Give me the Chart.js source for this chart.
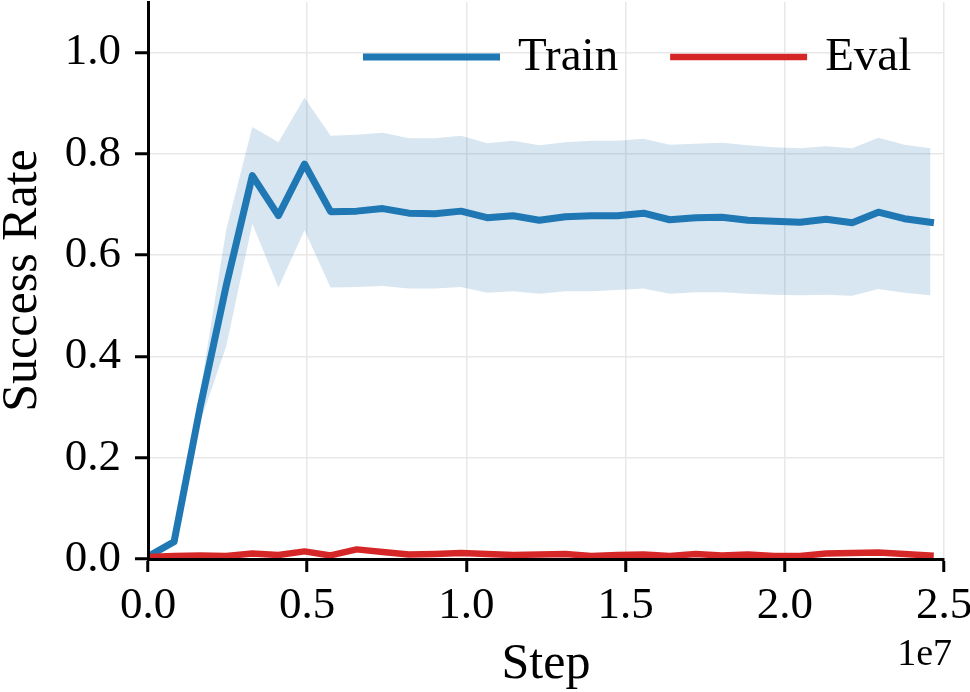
<!DOCTYPE html>
<html lang="en">
<head>
<meta charset="utf-8">
<script src="https://cdn.jsdelivr.net/npm/chart.js@4.4.1/dist/chart.umd.min.js"></script>
<style>
  body { margin: 0; background: #fff; }
  #wrap { width: 970px; height: 692px; }
</style>
</head>
<body>
<div id="wrap"><canvas id="chart" width="970" height="692"></canvas></div>
<script>
// env steps (x axis)
const steps = [0, 819200, 1638400, 2457600, 3276800, 4096000, 4915200, 5734400, 6553600, 7372800,
  8192000, 9011200, 9830400, 10649600, 11468800, 12288000, 13107200, 13926400, 14745600, 15564800,
  16384000, 17203200, 18022400, 18841600, 19660800, 20480000, 21299200, 22118400, 22937600, 23756800,
  24576000];

const trainMean = [0.005, 0.034, 0.30, 0.54, 0.757, 0.678, 0.780, 0.686, 0.687, 0.692,
  0.683, 0.682, 0.687, 0.674, 0.678, 0.669, 0.676, 0.678, 0.678, 0.683,
  0.670, 0.674, 0.675, 0.669, 0.667, 0.665, 0.671, 0.664, 0.685, 0.672,
  0.665];
const trainUpper = [0.005, 0.040, 0.33, 0.65, 0.853, 0.823, 0.911, 0.836, 0.838, 0.842,
  0.831, 0.831, 0.836, 0.821, 0.826, 0.817, 0.823, 0.826, 0.826, 0.830,
  0.818, 0.820, 0.822, 0.817, 0.813, 0.811, 0.815, 0.811, 0.832, 0.818,
  0.811];
const trainLower = [0.005, 0.030, 0.27, 0.42, 0.662, 0.536, 0.649, 0.536, 0.537, 0.539,
  0.534, 0.534, 0.537, 0.526, 0.529, 0.524, 0.529, 0.529, 0.531, 0.534,
  0.524, 0.527, 0.527, 0.524, 0.522, 0.521, 0.522, 0.520, 0.533, 0.526,
  0.521];
const evalMean = [0.004, 0.006, 0.007, 0.006, 0.011, 0.008, 0.015, 0.007, 0.019, 0.014,
  0.009, 0.010, 0.012, 0.010, 0.008, 0.009, 0.010, 0.006, 0.008, 0.009,
  0.006, 0.010, 0.007, 0.009, 0.006, 0.006, 0.011, 0.012, 0.013, 0.010,
  0.007];

const xTicks = [0, 5e6, 1e7, 1.5e7, 2e7, 2.5e7];
const xTickLabels = ['0.0', '0.5', '1.0', '1.5', '2.0', '2.5'];
const yTicks = [0, 0.2, 0.4, 0.6, 0.8, 1.0];
const yTickLabels = ['0.0', '0.2', '0.4', '0.6', '0.8', '1.0'];

const BLUE = '#1f77b4';
const RED = '#d62728';
const SERIF = '"Liberation Serif", "DejaVu Serif", serif';

function pts(ys) {
  return steps.map((s, i) => ({ x: s, y: ys[i] }));
}

// legend without frame + the "1e7" offset label, drawn after everything
const extras = {
  id: 'extras',
  afterDraw(chart) {
    const ctx = chart.ctx;
    ctx.save();
    ctx.font = '47px ' + SERIF;
    ctx.textBaseline = 'middle';
    ctx.textAlign = 'left';
    let x = 363;
    const y = 57;
    chart.data.datasets.forEach(ds => {
      if (!ds.label) return;
      ctx.strokeStyle = ds.borderColor;
      ctx.lineWidth = ds.borderWidth;
      ctx.lineCap = 'butt';
      ctx.beginPath();
      ctx.moveTo(x, y);
      ctx.lineTo(x + 137, y);
      ctx.stroke();
      ctx.fillStyle = '#000';
      ctx.fillText(ds.label, x + 155, y + 1);
      x += 155 + ctx.measureText(ds.label).width + 52;
    });
    ctx.font = '38px ' + SERIF;
    ctx.textAlign = 'right';
    ctx.fillText('1e7', 952, 655);
    ctx.restore();
  }
};

new Chart(document.getElementById('chart'), {
  type: 'line',
  data: {
    datasets: [
      {
        label: 'Train', data: pts(trainMean), order: 1,
        borderColor: BLUE, borderWidth: 7, pointRadius: 0,
        borderCapStyle: 'square', borderJoinStyle: 'round', tension: 0, fill: false
      },
      {
        label: 'Eval', data: pts(evalMean), order: 0,
        borderColor: RED, borderWidth: 6.5, pointRadius: 0,
        borderCapStyle: 'square', borderJoinStyle: 'round', tension: 0, fill: false
      },
      {
        label: '', data: pts(trainUpper), order: 2,
        borderWidth: 0, pointRadius: 0, tension: 0,
        backgroundColor: 'rgba(31,119,180,0.18)', fill: '+1'
      },
      {
        label: '', data: pts(trainLower), order: 3,
        borderWidth: 0, pointRadius: 0, tension: 0, fill: false
      }
    ]
  },
  options: {
    responsive: false,
    animation: false,
    devicePixelRatio: 1,
    layout: { padding: { top: 2, right: 26, left: 0, bottom: 0 } },
    plugins: { legend: { display: false }, tooltip: { enabled: false } },
    scales: {
      x: {
        type: 'linear', min: 0, max: 2.5e7,
        afterBuildTicks: s => { s.ticks = xTicks.map(v => ({ value: v })); },
        afterFit: s => { s.height = 133; s.paddingLeft = 0; s.paddingRight = 0; },
        ticks: {
          callback: (v, i) => xTickLabels[i],
          font: { family: SERIF, size: 45 }, color: '#000',
          padding: 7, maxRotation: 0, autoSkip: false
        },
        grid: { color: '#e8e8e8', lineWidth: 1.5, tickLength: 13, tickColor: '#000', tickWidth: 3 },
        border: { color: '#000', width: 3, z: 1 },
        title: {
          display: true, text: 'Step', color: '#000',
          font: { family: SERIF, size: 50, lineHeight: 1 },
          padding: { top: 0, bottom: 2 }
        }
      },
      y: {
        type: 'linear', min: 0, max: 1.1,
        afterBuildTicks: s => { s.ticks = yTicks.map(v => ({ value: v })); },
        afterFit: s => { s.width = 148; s.paddingTop = 0; s.paddingBottom = 0; },
        ticks: {
          callback: (v, i) => yTickLabels[i],
          font: { family: SERIF, size: 45 }, color: '#000', padding: 14
        },
        grid: { color: '#e8e8e8', lineWidth: 1.5, tickLength: 13, tickColor: '#000', tickWidth: 3 },
        border: { color: '#000', width: 3, z: 1 },
        title: {
          display: true, text: 'Success Rate', color: '#000',
          font: { family: SERIF, size: 50, lineHeight: 0.9 },
          padding: { top: 0, bottom: 0 }
        }
      }
    }
  },
  plugins: [extras]
});
</script>
</body>
</html>
